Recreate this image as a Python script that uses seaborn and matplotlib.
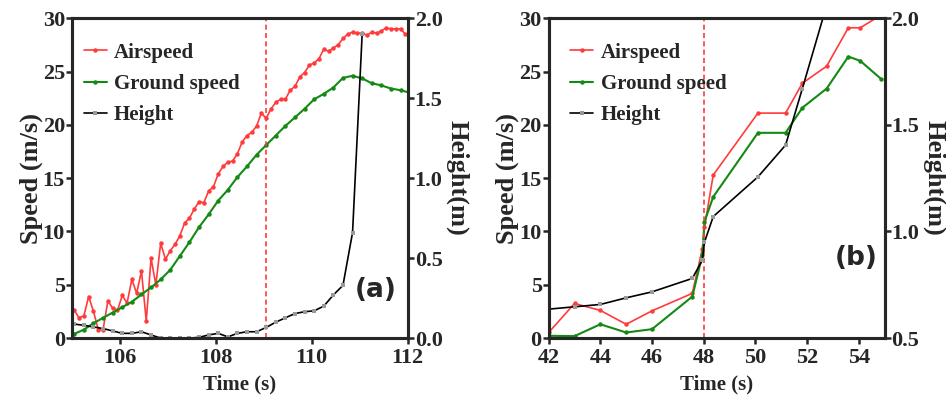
import numpy as np
import pandas as pd
import matplotlib
matplotlib.use("Agg")
import matplotlib.pyplot as plt
import seaborn as sns

# ---- panel (a) data ----
t_air_a = np.round(np.arange(105.05, 112.0, 0.1), 2)
airspeed_a = [2.6, 1.9, 2.1, 3.9, 2.5, 0.8, 0.8, 3.5, 2.8, 2.6,
              4.0, 3.3, 5.5, 4.2, 6.3, 1.6, 7.5, 5.0, 8.9, 7.4,
              8.2, 8.8, 9.6, 10.8, 11.25, 12.1, 12.8, 12.7, 13.8, 14.2,
              15.4, 16.1, 16.5, 16.6, 17.3, 18.4, 19.0, 19.3, 19.9, 21.1,
              20.6, 21.5, 22.1, 22.4, 22.4, 23.25, 23.6, 24.5, 24.9, 25.6,
              25.8, 26.2, 27.1, 26.9, 27.2, 27.5, 28.1, 28.5, 28.7, 28.6,
              28.6, 28.4, 28.7, 28.6, 28.8, 29.1, 29.0, 29.0, 29.0, 28.5]

t_gnd_a = np.round(np.arange(105.05, 112.1, 0.2), 2)
ground_a = [0.4, 0.8, 1.4, 1.9, 2.4, 2.9, 3.4, 4.1, 4.75, 5.5,
            6.4, 7.7, 9.0, 10.4, 11.6, 12.9, 13.9, 15.1, 16.1, 17.2,
            18.1, 19.0, 19.9, 20.7, 21.5, 22.4, 22.9, 23.5, 24.4, 24.6,
            24.35, 23.9, 23.7, 23.4, 23.25, 23.0]

t_h_a = [105.05, 105.25, 105.45, 105.65, 105.85, 106.05, 106.25, 106.45,
         106.65, 106.85, 107.05, 107.25, 107.45, 107.65, 107.85, 108.05,
         108.25, 108.45, 108.65, 108.85, 109.05, 109.25, 109.45, 109.65,
         109.85, 110.05, 110.25, 110.45, 110.65, 110.85, 111.05]
height_a = [0.088, 0.08, 0.07, 0.06, 0.045, 0.03, 0.03, 0.04,
            0.02, 0.0, 0.0, 0.0, 0.0, 0.005, 0.02, 0.03,
            0.008, 0.03, 0.04, 0.04, 0.067, 0.10, 0.127, 0.154,
            0.165, 0.171, 0.2, 0.27, 0.33, 0.66, 1.9]

# ---- panel (b) data ----
t_b = [42.0, 43.0, 44.0, 45.0, 46.0, 47.56, 47.95, 48.03, 48.37,
       50.1, 51.17, 51.82, 52.76, 53.6, 54.06, 54.87]
airspeed_b = [0.53, 3.25, 2.6, 1.3, 2.56, 4.2, 8.4, 10.4, 15.3,
              21.1, 21.1, 23.9, 25.5, 29.1, 29.1, 30.3]
ground_b = [0.22, 0.19, 1.3, 0.53, 0.84, 3.9, 7.8, 10.9, 13.25,
            19.25, 19.25, 21.6, 23.4, 26.4, 26.0, 24.3]
height_b = [0.636, 0.647, 0.658, 0.689, 0.717, 0.78, 0.866, 0.95, 1.07,
            1.256, 1.405, 1.67, 2.06, 2.5, 2.7, 3.0]

RED = "#ff3b3b"
GREEN = "#148a14"
BLACK = "#000000"

sns.set_style("ticks")
plt.rcParams['font.family'] = ['Liberation Serif', 'DejaVu Serif']
plt.rcParams['font.weight'] = 'bold'
plt.rcParams['axes.labelweight'] = 'bold'
plt.rcParams['axes.linewidth'] = 2.2
plt.rcParams['xtick.major.width'] = 1.8
plt.rcParams['ytick.major.width'] = 1.8
plt.rcParams['xtick.major.size'] = 4
plt.rcParams['ytick.major.size'] = 4

fig = plt.figure(figsize=(9.46, 4.04), dpi=100)


def draw_panel(rect, t_air, air, t_gnd, gnd, t_h, h, xlim, xticks,
               hlim, hticks, vline, tag, tag_pos, leg_anchor):
    ax = fig.add_axes(rect)
    ax2 = ax.twinx()
    mk = dict(marker='o', markersize=3.2, markeredgewidth=0)
    sns.lineplot(x=t_air, y=air, ax=ax, color=RED, linewidth=1.2,
                 label='Airspeed', **mk)
    sns.lineplot(x=t_gnd, y=gnd, ax=ax, color=GREEN, linewidth=1.5,
                 label='Ground speed', **mk)
    sns.lineplot(x=t_h, y=h, ax=ax2, color=BLACK, linewidth=1.2,
                 label='Height', marker='s', markersize=2.5,
                 markeredgewidth=0, markerfacecolor='#999999')
    ax.axvline(vline, color=RED, linestyle=(0, (3, 2)), linewidth=1.2)

    ax.set_xlim(*xlim)
    ax.set_ylim(0, 30)
    ax.set_xticks(xticks)
    ax.set_yticks(range(0, 31, 5))
    ax2.set_ylim(*hlim)
    ax2.set_yticks(hticks)
    ax2.set_yticklabels([f"{v:.1f}" for v in hticks])

    ax.set_xlabel('Time (s)', fontsize=15, labelpad=5)
    ax.set_ylabel('Speed (m/s)', fontsize=19, labelpad=0)
    ax2.set_ylabel('Height(m)', fontsize=19, rotation=270, labelpad=19)
    for a in (ax, ax2):
        a.tick_params(labelsize=16, direction='out')
    ax.tick_params(axis='x', pad=3)
    ax.tick_params(axis='y', pad=1)
    ax2.tick_params(axis='y', pad=1)
    for a in (ax, ax2):
        for s in a.spines.values():
            s.set_linewidth(2.2)

    h1, l1 = ax.get_legend_handles_labels()
    h2, l2 = ax2.get_legend_handles_labels()
    ax2.get_legend().remove()
    ax.legend(h1 + h2, l1 + l2, loc='upper left', frameon=False,
              fontsize=15, handlelength=1.1, handletextpad=0.35,
              labelspacing=0.55, borderaxespad=0.0,
              bbox_to_anchor=leg_anchor)
    ax.text(tag_pos[0], tag_pos[1], tag, transform=ax.transAxes,
            fontsize=19, fontweight='bold', family='DejaVu Sans',
            ha='center', va='center')
    return ax, ax2


draw_panel([0.076, 0.163, 0.355, 0.792], t_air_a, airspeed_a, t_gnd_a,
           ground_a, t_h_a, height_a, (105, 112), [106, 108, 110, 112],
           (0, 2.0), [0.0, 0.5, 1.0, 1.5, 2.0], 109.05, '(a)', (0.905, 0.15),
           (0.01, 0.95))
draw_panel([0.580, 0.163, 0.355, 0.792], t_b, airspeed_b, t_b,
           ground_b, t_b, height_b, (42, 55), [42, 44, 46, 48, 50, 52, 54],
           (0.5, 2.0), [0.5, 1.0, 1.5, 2.0], 48.0, '(b)', (0.915, 0.25),
           (0.04, 0.95))

fig.savefig('out.png', dpi=100)
